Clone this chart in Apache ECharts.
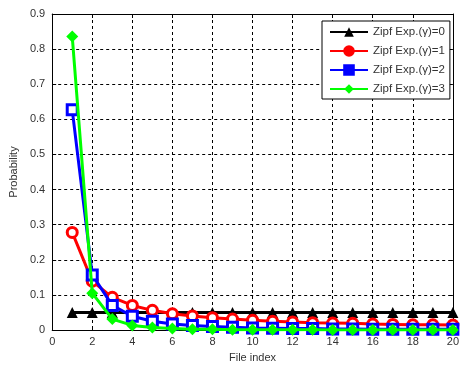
<!DOCTYPE html>
<html><head><meta charset="utf-8">
<script src="https://cdn.jsdelivr.net/npm/echarts@6/dist/echarts.min.js"></script>
<style>html,body{margin:0;padding:0;background:#fff}#c{width:462px;height:368px}</style>
</head><body><div id="c"></div>
<script>
const fileIndex = [1,2,3,4,5,6,7,8,9,10,11,12,13,14,15,16,17,18,19,20];
const gamma0 = [0.05,0.05,0.05,0.05,0.05,0.05,0.05,0.05,0.05,0.05,0.05,0.05,0.05,0.05,0.05,0.05,0.05,0.05,0.05,0.05];
const gamma1 = [0.278,0.139,0.093,0.070,0.056,0.046,0.040,0.035,0.031,0.028,0.025,0.023,0.021,0.020,0.019,0.017,0.016,0.015,0.015,0.014];
const gamma2 = [0.627,0.157,0.070,0.039,0.025,0.017,0.013,0.010,0.008,0.006,0.005,0.004,0.004,0.003,0.003,0.002,0.002,0.002,0.002,0.002];
const gamma3 = [0.836,0.105,0.031,0.013,0.007,0.004,0.002,0.002,0.001,0.001,0.001,0.0005,0.0004,0.0003,0.0002,0.0002,0.0002,0.0001,0.0001,0.0001];
const names = ['Zipf Exp.(\u03b3)=0','Zipf Exp.(\u03b3)=1','Zipf Exp.(\u03b3)=2','Zipf Exp.(\u03b3)=3'];
const xTicks = [0,2,4,6,8,10,12,14,16,18,20];
const yTicks = [0,0.1,0.2,0.3,0.4,0.5,0.6,0.7,0.8,0.9];

const font = 'Liberation Sans, Arial, sans-serif';
const txt = '#333';
function pairs(v){ return fileIndex.map((x,i)=>[x,v[i]]); }

const chart = echarts.init(document.getElementById('c'), null, {renderer:'canvas'});
const axisCommon = {
  axisLine:{show:true,onZero:false,lineStyle:{color:'#000',width:1}},
  axisTick:{show:true,inside:true,length:4,lineStyle:{color:'#000'}},
};
chart.setOption({
  animation:false,
  backgroundColor:'#fff',
  textStyle:{fontFamily:font},
  grid:{left:49,right:7,top:14,bottom:32,containLabel:false},
  xAxis:[
    Object.assign({type:'value',min:0,max:20,interval:2,position:'bottom',
      name:'File index',nameLocation:'middle',nameGap:22,
      nameTextStyle:{color:txt,fontSize:11,fontFamily:font},
      axisLabel:{color:txt,fontSize:11,fontFamily:font,margin:6},
      splitLine:{show:true,lineStyle:{color:'#000',type:[3,3],width:1}}},axisCommon),
    Object.assign({type:'value',min:0,max:20,interval:2,position:'top',
      axisLabel:{show:false},splitLine:{show:false}},axisCommon)
  ],
  yAxis:[
    Object.assign({type:'value',min:0,max:0.9,interval:0.1,position:'left',
      name:'Probability',nameLocation:'middle',nameGap:25,nameRotate:90,
      nameTextStyle:{color:txt,fontSize:11,fontFamily:font},
      axisLabel:{color:txt,fontSize:11,fontFamily:font,margin:7,formatter:v=>v===0?'0':String(Math.round(v*10)/10)},
      splitLine:{show:true,lineStyle:{color:'#000',type:[3,3],width:1}}},axisCommon),
    Object.assign({type:'value',min:0,max:0.9,interval:0.1,position:'right',
      axisLabel:{show:false},splitLine:{show:false}},axisCommon)
  ],
  legend:{
    orient:'vertical',left:322,top:21,
    backgroundColor:'#fff',borderColor:'#000',borderWidth:1,borderRadius:0,
    padding:[5,5,4,7],itemGap:7,itemWidth:38,itemHeight:12,
    textStyle:{color:txt,fontSize:11.5,fontFamily:font},
    data:[
      {name:names[0],itemStyle:{color:'#000'}},
      {name:names[1],itemStyle:{color:'#ff0000'}},
      {name:names[2],itemStyle:{color:'#0000ff'}},
      {name:names[3],itemStyle:{color:'#00ff00'}}
    ]
  },
  series:[
    {name:names[0],type:'line',data:pairs(gamma0),symbol:'triangle',symbolSize:11,
      lineStyle:{color:'#000',width:3},itemStyle:{color:'#000'},z:2},
    {name:names[1],type:'line',data:pairs(gamma1),symbol:'circle',symbolSize:10,
      lineStyle:{color:'#ff0000',width:3},itemStyle:{color:'#fff',borderColor:'#ff0000',borderWidth:3},z:3},
    {name:names[2],type:'line',data:pairs(gamma2),symbol:'rect',symbolSize:10,
      lineStyle:{color:'#0000ff',width:3},itemStyle:{color:'#fff',borderColor:'#0000ff',borderWidth:3},z:4},
    {name:names[3],type:'line',data:pairs(gamma3),symbol:'diamond',symbolSize:12,
      lineStyle:{color:'#00ff00',width:3},itemStyle:{color:'#00ff00'},z:5}
  ]
});
</script></body></html>
